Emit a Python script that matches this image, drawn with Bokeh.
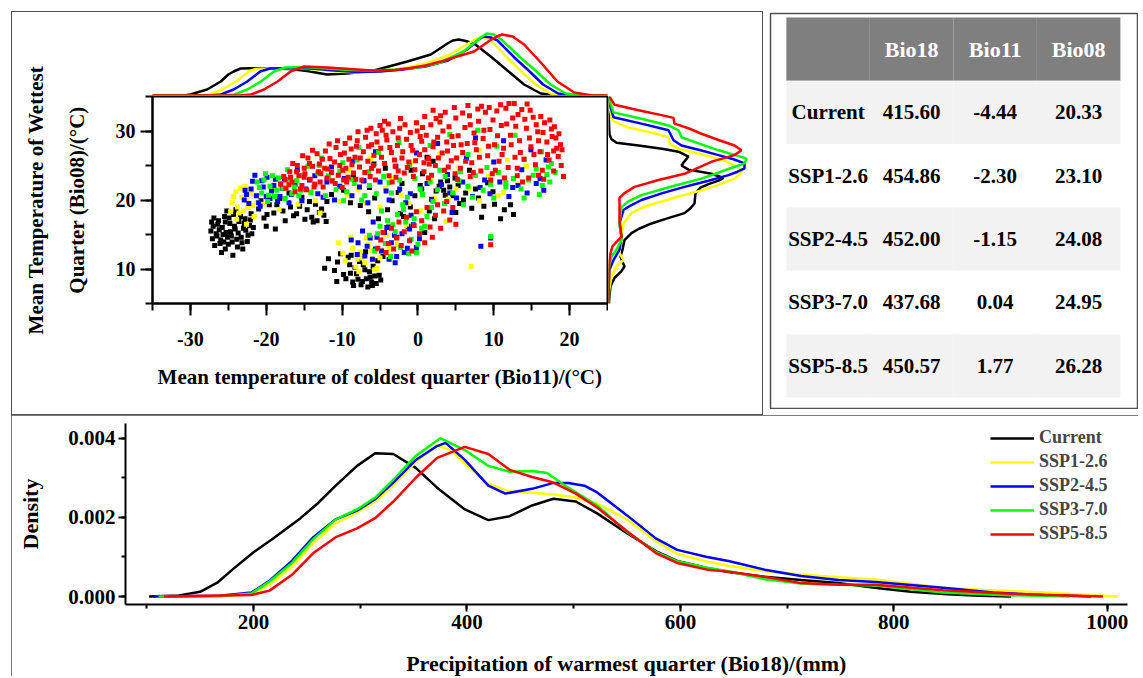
from bokeh.plotting import figure
from bokeh.layouts import column, row
from bokeh.models import (Range1d, LinearAxis, SingleIntervalTicker, FixedTicker,
                          PrintfTickFormatter, Spacer, Legend, LegendItem)
from bokeh.core.properties import value
from bokeh.embed import file_html
from bokeh.resources import INLINE

FONT = "Liberation Serif"

# ---------------- data ----------------
series = ["Current", "SSP1-2.6", "SSP2-4.5", "SSP3-7.0", "SSP5-8.5"]
colors = ["#000000", "#ffff00", "#0000ff", "#00ff00", "#ff0000"]

# table
table_cols = ["Bio18", "Bio11", "Bio08"]
bio18_mean = [415.60, 454.86, 452.00, 437.68, 450.57]
bio11_mean = [-4.44, -2.30, -1.15, 0.04, 1.77]
bio08_mean = [20.33, 23.10, 24.08, 24.95, 26.28]

# scatter points (Bio11, Bio08)
pts_current = [(-27.0,16.2),(-26.6,15.1),(-26.3,17.0),(-26.0,14.2),(-25.8,16.0),(-25.5,17.6),(-25.3,15.3),(-25.0,13.6),
    (-24.8,16.6),(-24.6,14.8),(-24.3,17.9),(-24.1,15.8),(-23.8,13.2),(-23.6,16.9),(-23.3,14.6),(-23.0,15.9),(-22.8,17.3),
    (-22.5,14.0),(-22.2,16.3),(-21.9,15.1),(-26.8,13.4),(-25.9,12.4),(-24.4,12.0),(-23.1,12.9),(-27.3,15.5),(-25.2,18.4),
    (-24.0,18.6),(-22.0,18.0),(-26.2,15.7),(-24.7,15.4),(-23.9,14.3),(-25.6,13.9),(-22.7,15.6),(-27.1,14.4),
    (-26.9,17.4),(-26.4,16.5),(-26.1,13.7),(-25.7,15.0),(-25.4,16.8),(-25.1,14.6),(-24.9,17.4),(-24.5,13.9),(-24.2,16.2),
    (-23.7,15.2),(-23.4,17.6),(-23.2,13.8),(-22.9,16.6),(-22.4,14.9),(-22.1,17.1),(-21.7,16.0),(-26.5,14.8),(-27.2,16.8),
    (-25.4,12.9),
    (-21.0,18.7),(-20.3,17.4),(-19.6,19.3),(-19.0,18.1),(-18.2,20.2),(-17.5,17.0),(-16.8,19.0),(-16.0,18.0),(-15.3,20.4),
    (-14.6,18.6),(-14.0,17.5),(-13.5,19.4),(-13.0,18.2),(-12.4,17.8),(-12.0,19.8),(-11.4,20.8),(-17.0,21.0),(-20.0,16.2),
    (-18.8,15.8),(-13.8,16.8),(-20.7,19.9),(-19.9,17.9),(-18.6,19.3),(-17.8,18.4),(-16.4,17.7),(-15.6,19.1),(-14.9,17.2),
    (-14.3,19.8),(-13.3,17.0),(-12.7,18.7),(-12.1,16.9),
    (-11.8,11.5),(-11.0,9.8),(-10.2,12.2),(-9.5,8.6),(-9.0,10.6),(-8.5,7.6),(-8.1,9.3),(-7.7,11.1),(-7.3,8.2),(-7.0,9.9),
    (-6.6,7.4),(-6.3,8.8),(-5.9,10.4),(-5.5,7.9),(-5.1,9.1),(-4.6,11.8),(-6.9,12.5),(-8.8,12.0),(-7.9,8.5),(-6.1,8.1),
    (-10.6,11.0),(-9.8,9.2),(-9.2,11.7),(-8.6,8.1),(-8.3,10.2),(-7.5,7.7),(-7.2,10.6),(-6.8,8.6),(-6.4,9.6),(-6.0,7.6),
    (-5.7,9.0),(-5.3,11.2),(-4.9,8.4),(-8.9,9.4),(-10.7,8.2),(-12.3,10.1),
    (-9.8,21.4),(-8.5,23.5),(-7.6,19.2),(-6.4,21.8),(-5.2,17.3),(-4.3,24.6),(-3.4,19.9),(-2.1,22.4),(-1.3,16.2),(-0.4,20.6),
    (0.6,23.8),(1.5,18.4),(2.4,21.3),(3.0,22.6),(3.6,20.7),(4.2,21.9),(4.9,23.2),(5.5,19.5),(6.3,21.0),(7.1,18.8),(8.0,20.3),
    (9.2,22.5),(10.1,19.4),(11.4,18.6),(12.6,17.9),(-2.8,14.6),(0.9,15.3),(2.0,25.6),(6.8,24.3),(-5.8,25.2),
    (-8.9,19.6),(-7.2,22.8),(-5.7,20.3),(-4.0,18.6),(-2.6,21.1),(-1.0,19.0),(0.3,22.1),(1.9,20.0),(2.8,22.0),(3.4,21.4),
    (3.9,22.8),(4.6,20.6),(5.3,22.1),(6.0,20.0),(7.6,21.6),(8.7,19.1),(9.9,21.2),(-0.9,24.3),(1.2,26.2),(-3.9,16.1),(-1.9,17.6),
    (-6.5,18.3),(-2.3,18.0),(2.2,17.3),(5.0,18.2),(8.4,17.5),(10.9,17.3),(12.2,19.3)]
pts_ssp126 = [(-24.5,19.6),(-24.0,21.2),(-23.6,18.1),(-23.2,20.4),(-22.8,22.0),(-22.4,18.9),(-22.0,20.9),(-21.6,17.6),
    (-21.2,19.7),(-20.8,21.8),(-23.9,17.2),(-22.6,16.5),(-24.3,20.5),(-23.8,19.0),(-23.4,21.7),(-23.0,18.4),(-22.6,19.9),
    (-22.2,21.5),(-21.8,19.2),(-21.4,20.6),(-24.7,18.3),(-20.5,19.4),
    (-19.5,20.5),(-18.3,18.6),(-17.1,22.3),(-15.8,19.4),(-14.2,21.2),(-12.9,18.1),(-11.6,22.7),(-10.4,19.8),
    (-19.0,21.6),(-16.5,20.9),(-13.5,19.9),(-9.3,20.7),(-6.8,19.5),(-4.3,21.7),(-1.2,19.5),(2.2,20.2),(5.0,21.6),(8.1,19.9),
    (11.3,21.1),
    (-10.5,13.8),(-9.6,11.2),(-8.9,14.6),(-8.2,10.3),(-7.6,12.4),(-7.0,10.9),(-6.5,13.6),(-6.0,11.5),(-5.4,10.1),(-4.8,12.8),
    (-4.1,14.9),(-3.3,11.9),(-2.7,13.5),(-7.8,9.6),(-9.9,12.3),(-8.6,13.0),(-7.3,11.6),(-6.2,12.7),(-5.7,9.9),(-5.0,11.6),
    (-8.0,11.4),(-6.8,14.5),(-3.8,13.0),
    (-9.1,24.3),(-7.9,21.5),(-6.2,26.0),(-5.0,19.0),(-3.6,23.1),(-2.2,20.7),(-0.9,25.4),(0.3,18.4),(1.7,22.8),(2.9,26.6),
    (4.0,20.1),(5.4,24.6),(6.7,21.7),(8.1,27.2),(9.3,23.4),(10.6,20.6),(11.8,25.8),(13.1,22.3),(14.3,24.9),(7.0,10.4),
    (3.7,16.9),(-1.5,16.3)]
pts_ssp245 = [(-22.8,21.4),(-22.3,19.5),(-21.8,22.7),(-21.3,20.6),(-20.8,19.1),(-20.4,21.9),(-19.9,23.3),(-19.5,20.2),
    (-19.0,22.1),(-18.5,19.8),(-21.5,23.6),(-22.9,20.0),(-22.6,20.8),(-22.0,21.6),(-21.0,19.6),(-20.6,22.8),(-20.0,20.5),
    (-19.3,21.3),(-18.8,23.0),(-18.2,20.5),(-17.9,21.7),
    (-17.6,23.0),(-16.7,20.8),(-15.9,24.4),(-14.8,21.6),(-13.6,23.5),(-12.5,20.4),(-11.4,24.8),(-10.3,22.0),
    (-17.0,19.6),(-16.2,22.3),(-15.3,19.9),(-14.3,22.9),(-13.2,20.9),(-12.0,22.6),(-11.0,20.0),(-9.7,23.1),(-8.7,20.6),
    (-7.7,21.9),(-6.6,19.6),(-5.0,22.6),(-3.8,20.0),(-2.4,21.6),(-1.0,20.9),(0.5,21.6),(1.8,20.1),(3.1,22.2),(4.2,21.0),
    (5.9,22.6),(7.2,20.5),(8.2,21.8),(9.5,20.9),(10.8,22.6),(12.0,20.5),(13.2,22.1),(14.4,21.0),(15.6,22.4),(16.6,21.4),
    (-8.8,14.2),(-8.0,12.1),(-7.3,15.5),(-6.7,13.3),(-6.0,11.4),(-5.4,14.6),(-4.8,12.6),(-4.1,16.0),(-3.5,13.8),(-2.8,11.8),
    (-2.1,15.1),(-1.4,13.0),(-0.6,16.4),(0.2,14.4),(-5.9,16.8),(-3.0,10.9),(-7.9,13.8),(-7.0,11.9),(-6.3,14.5),(-5.6,12.9),
    (-4.4,15.3),(-3.8,11.4),(-3.1,14.9),(-1.8,12.4),(-1.1,15.8),(-0.2,13.1),
    (-8.6,25.6),(-7.1,22.8),(-5.6,27.0),(-4.2,21.3),(-2.9,24.9),(-1.6,19.6),(-0.2,26.8),(1.2,22.4),(2.6,28.2),(3.9,23.7),
    (5.1,20.3),(6.4,26.1),(7.6,29.0),(8.8,22.9),(10.0,25.5),(11.3,28.6),(12.5,21.8),(13.7,24.4),(14.9,27.3),(16.1,23.1),
    (16.9,25.8),(8.3,13.3),(9.6,14.5),(4.5,18.2),(-0.9,17.8)]
pts_ssp370 = [(-21.2,22.6),(-20.6,21.0),(-20.1,23.8),(-19.5,22.0),(-18.9,20.5),(-18.4,23.2),(-17.8,21.7),(-17.2,24.4),
    (-16.6,20.9),(-16.0,22.8),(-15.4,21.4),(-19.8,19.8),(-20.9,21.8),(-20.3,22.9),(-19.7,20.7),(-19.2,23.5),(-18.6,21.4),
    (-18.1,22.4),(-17.5,20.2),(-16.9,23.0),(-16.3,21.9),(-15.7,20.6),(-15.1,23.6),
    (-14.5,24.9),(-13.6,22.3),(-12.7,26.1),(-11.8,23.5),(-10.8,21.5),(-9.9,25.4),(-8.9,23.0),
    (-14.1,21.1),(-13.2,23.9),(-12.2,20.6),(-11.3,22.7),(-10.3,24.2),(-9.4,21.2),(-8.4,22.4),(-7.4,20.0),(-6.4,22.1),
    (-5.5,20.9),(-4.5,23.4),(-3.5,21.0),(-2.4,22.9),(-1.4,20.4),(-0.4,23.1),(0.6,20.8),(1.6,22.6),(2.6,21.5),(3.6,23.4),
    (4.6,21.0),(5.6,24.1),(6.6,22.0),(7.6,23.5),(8.6,21.4),(9.6,22.3),(10.6,24.0),(11.6,21.9),(12.6,23.1),(13.6,21.6),
    (14.6,22.9),(15.6,24.5),(16.4,22.1),(17.0,23.7),(17.6,25.3),(18.1,24.0),
    (-13.0,25.0),(-8.0,25.8),(2.0,19.8),(6.0,19.3),(10.0,20.3),(14.0,20.3),(16.0,20.8),(-9.8,19.9),(-2.0,19.3),
    (-6.4,14.9),(-5.7,12.6),(-5.0,16.2),(-4.3,13.7),(-3.6,11.8),(-3.0,15.4),(-2.3,13.1),(-1.6,16.8),(-0.9,14.3),(-0.2,12.4),
    (0.5,15.9),(1.2,17.6),(-2.7,17.9),(-4.8,18.4),(-4.0,17.0),(-3.3,16.4),(-1.9,18.6),(-0.5,17.3),(0.9,16.2),(1.8,18.9),
    (-5.3,15.1),(-1.2,12.2),(0.0,13.6),
    (-7.8,27.6),(-6.5,24.1),(-5.2,26.9),(-3.8,22.5),(-2.5,28.3),(-1.1,25.0),(0.3,21.6),(1.6,27.9),(2.9,24.3),(4.2,29.5),
    (5.4,22.8),(6.6,26.6),(7.9,30.1),(9.1,24.7),(10.4,27.8),(11.6,22.5),(12.8,29.4),(14.0,25.9),(15.2,23.6),(16.3,27.0),
    (17.2,24.8),(9.6,14.7),(17.4,22.6),(3.5,19.5),(7.2,20.4),(-7.0,20.6)]
pts_ssp585 = [(-18.1,22.3),(-17.7,23.4),(-17.4,21.7),(-16.9,24.1),(-16.6,22.6),(-16.2,21.2),(-15.9,25.0),(-15.7,23.5),
    (-15.3,22.1),(-15.0,24.6),(-14.7,21.5),(-14.5,26.1),(-14.2,23.0),(-13.9,24.9),(-13.6,22.3),(-13.3,26.7),(-13.0,25.2),
    (-12.8,23.8),(-12.5,21.9),(-12.2,27.1),(-11.9,24.5),(-11.6,26.0),(-11.3,22.8),(-11.0,25.5),(-10.8,27.6),(-10.5,23.6),
    (-10.2,26.6),(-9.9,24.3),(-9.6,28.2),(-9.4,22.6),(-9.1,25.9),(-8.8,27.4),(-8.5,23.9),(-8.3,26.2),(-8.0,28.6),(-7.7,24.8),
    (-7.4,22.9),(-7.2,27.0),(-6.9,29.1),(-6.6,25.6),(-6.3,23.4),(-6.1,28.0),(-5.8,26.5),(-5.5,29.6),(-5.2,24.2),(-4.9,27.5),
    (-4.7,30.1),(-4.4,25.3),(-4.1,28.7),(-3.8,23.5),(-3.5,26.9),(-3.3,29.9),(-3.0,24.9),(-2.7,27.9),(-2.4,30.4),(-2.1,26.1),
    (-1.8,23.9),(-1.5,28.8),(-1.2,25.5),(-1.0,29.8),(-0.7,27.2),(-0.4,24.4),(-0.1,30.0),(0.2,26.6),(0.5,28.5),(0.8,24.1),
    (1.1,29.4),(1.4,26.0),(1.7,30.9),(2.0,27.7),(2.3,25.0),(2.6,29.1),(2.9,31.3),(3.2,26.8),(3.5,24.3),(3.8,28.4),(4.1,30.6),
    (4.4,25.7),(4.7,27.9),(5.0,31.9),(5.3,29.3),(5.6,24.6),(5.9,26.9),(6.2,30.5),(6.5,28.2),(6.8,32.2),(7.1,25.4),(7.4,29.7),
    (7.7,27.3),(8.0,31.4),(8.3,24.2),(8.6,28.9),(8.9,32.7),(9.2,26.4),(9.5,30.2),(9.8,23.8),(10.1,28.0),(10.4,32.9),
    (10.7,25.6),(11.0,30.8),(11.3,27.5),(11.6,33.3),(11.9,24.7),(12.2,29.4),(12.5,31.9),(12.8,26.2),(13.1,23.5),(13.4,28.6),
    (13.7,33.1),(14.0,25.9),(14.3,30.4),(14.6,23.2),(14.9,27.7),(15.2,32.0),(15.5,25.1),(15.8,29.9),(16.1,27.0),(16.4,24.3),
    (16.7,31.2),(17.0,28.4),(17.3,25.8),(17.6,30.3),(17.9,27.1),(18.2,29.0),(18.5,26.3),(18.8,28.0),
    (-17.5,22.9),(-16.8,23.3),(-16.0,24.1),(-15.5,21.6),(-14.9,23.8),(-14.3,25.3),(-13.7,21.9),(-13.1,24.1),(-12.6,25.9),
    (-12.0,23.2),(-11.4,24.0),(-10.9,22.4),(-10.3,25.0),(-9.7,26.8),(-9.2,23.3),(-8.7,25.1),(-8.1,27.8),(-7.6,26.1),
    (-7.0,24.0),(-6.5,27.8),(-5.9,25.0),(-5.4,28.4),(-4.8,26.2),(-4.2,29.4),(-3.7,27.6),(-3.1,25.8),(-2.6,29.0),(-2.0,27.0),
    (-1.4,24.7),(-0.9,27.9),(-0.3,25.7),(0.3,29.2),(0.9,27.3),(1.5,25.2),(2.1,28.4),(2.7,26.1),(3.3,30.0),(3.9,27.1),
    (4.5,29.2),(5.1,26.1),(5.7,28.0),(6.3,25.6),(6.9,30.9),(7.5,28.3),(8.1,26.2),(8.7,30.1),(9.3,27.8),(9.9,31.6),(10.5,29.3),
    (11.1,26.6),(11.7,31.0),(12.3,28.0),(12.9,30.7),(13.5,26.9),(14.1,31.7),(14.7,29.0),(15.3,26.6),(15.9,28.6),(16.5,29.8),
    (17.1,26.6),(17.7,29.2),(18.3,27.5),(-6.2,30.4),(-0.2,31.2),(3.0,32.2),(7.9,33.2),(12.0,34.0),(14.4,33.9),(-10.0,21.8),
    (-3.4,22.6),(1.4,23.2),(5.2,23.0),(9.6,22.9),(13.8,22.6),(16.6,23.0),(19.2,23.4),(9.6,13.5),
    (-16.5,25.3),(-15.2,26.4),(-13.9,27.2),(-12.9,22.6),(-11.7,28.1),(-10.6,28.6),(-9.8,22.9),(-9.0,29.0),(-8.2,23.0),
    (-7.9,29.9),(-6.7,30.1),(-5.6,22.9),(-5.0,30.8),(-3.9,31.0),(-2.9,23.3),(-1.7,30.9),(-0.6,23.4),(0.6,30.5),(1.8,23.6),
    (2.4,31.8),(3.6,32.7),(4.9,23.8),(5.9,32.6),(6.9,23.4),(8.4,33.6),(9.4,33.4),(10.9,33.8),(11.4,23.2),(12.7,34.0),
    (13.2,32.4),(14.8,33.0),(15.6,30.9),(16.2,32.1),(17.4,31.6),(18.0,30.6),(18.6,29.6),(19.0,27.3),(18.9,25.0),(17.9,24.2),
    (15.9,23.6),(-4.4,31.4),(-2.3,31.8),(0.9,32.1),(2.0,33.0),(4.8,33.4),(6.6,33.7),(13.1,24.6),(10.2,24.3),(7.3,24.0),
    (4.0,24.8),(0.8,25.4),(-2.6,24.2),(-6.1,24.6),(-9.5,24.6),(-12.3,24.6),(-15.0,23.3),(-17.0,22.2),
    (-5.3,13.0),(-4.9,14.2),(-4.6,15.3),(-4.2,12.4),(-3.9,13.7),(-3.5,15.9),(-3.2,12.9),(-2.8,14.5),(-2.5,16.8),(-2.2,13.4),
    (-1.8,15.4),(-1.5,17.5),(-1.1,14.1),(-0.8,12.6),(-0.5,16.3),(-0.2,18.3),(0.2,15.1),(0.5,17.0),(0.9,13.8),(1.2,18.9),
    (1.6,16.1),(1.9,14.6),(2.3,17.8),(2.6,19.3),(3.0,15.9),(3.4,18.4),(3.8,19.8),(4.2,17.1),(4.6,18.9),(5.0,16.5)]
scatter_points = [pts_current, pts_ssp126, pts_ssp245, pts_ssp370, pts_ssp585]

# marginal density of Bio11 (top)
bio11_x = [
    [-35, -30.9, -30, -27.8, -26, -25, -24.3, -23.4, -22, -20, -16.8, -14.6, -12, -9.3, -5.8, -1.4, 1.7, 3.9, 4.6, 5.4, 6.3, 7.4, 9.6, 11.8, 14, 16.2, 18.4, 25],
    [-35, -29, -27.5, -25.8, -24, -22.3, -21.4, -19, -16, -13, -11, -8, -5, -2, 1, 4, 6, 7.5, 8.3, 9.2, 10, 12, 13.5, 15.5, 17.5, 20, 25],
    [-35, -27.5, -26, -24.3, -22.5, -20.8, -19.5, -17, -14, -11, -8, -5, -2, 1, 4, 6.5, 8, 8.7, 9.6, 10.5, 13, 14.6, 16.5, 18.5, 20.5, 25],
    [-35, -25.7, -24.2, -22.5, -20.7, -19, -17.5, -15, -12, -9, -6, -3, 0, 3, 6, 8.3, 9.1, 10, 11, 13.5, 15.5, 17.5, 19.5, 21.5, 25],
    [-35, -23.5, -22, -20.3, -18.5, -16.8, -15, -12, -9, -6, -3, -1.4, 1, 3, 5.2, 7.4, 9.5, 10.4, 11.1, 12.5, 14, 16.2, 18.4, 20.6, 23, 25],
]
bio11_density = [
    [0, 0, 0.001, 0.006, 0.014, 0.021, 0.024, 0.027, 0.0272, 0.027, 0.0265, 0.0245, 0.021, 0.022, 0.025, 0.034, 0.041, 0.052, 0.055, 0.056, 0.0545, 0.052, 0.039, 0.025, 0.011, 0.002, 0, 0],
    [0, 0, 0.001, 0.006, 0.014, 0.024, 0.0265, 0.027, 0.027, 0.026, 0.024, 0.023, 0.024, 0.027, 0.032, 0.040, 0.049, 0.056, 0.058, 0.0565, 0.052, 0.036, 0.025, 0.011, 0.002, 0, 0],
    [0, 0, 0.001, 0.006, 0.014, 0.024, 0.027, 0.0275, 0.027, 0.025, 0.0235, 0.024, 0.026, 0.029, 0.035, 0.046, 0.056, 0.059, 0.058, 0.055, 0.036, 0.025, 0.011, 0.002, 0, 0],
    [0, 0, 0.001, 0.006, 0.014, 0.024, 0.028, 0.0285, 0.027, 0.0255, 0.025, 0.026, 0.028, 0.033, 0.044, 0.058, 0.062, 0.061, 0.056, 0.038, 0.025, 0.011, 0.002, 0, 0],
    [0, 0, 0.001, 0.006, 0.014, 0.024, 0.029, 0.028, 0.0265, 0.025, 0.0255, 0.027, 0.030, 0.034, 0.039, 0.044, 0.055, 0.059, 0.061, 0.059, 0.051, 0.033, 0.014, 0.003, 0, 0],
]

# marginal density of Bio08 (right)
bio08_y = [
    [35, 31, 29.5, 28.8, 28.3, 27.9, 27.4, 27.0, 26.3, 25.6, 25.0, 24.4, 23.8, 23.2, 22.8, 22.3, 21.8, 21.0, 19.5, 18.8, 18.1, 17.3, 16.6, 15.8, 15.2, 14.2, 12.8, 11.8, 11.0, 10.4, 9.7, 8.7, 7.5, 5.5, 5],
    [35, 33.5, 31.5, 30.5, 29.6, 29.1, 28.2, 27.4, 26.8, 26.25, 25.6, 25.0, 24.5, 24.1, 23.6, 23.1, 22.2, 21.4, 20.5, 19.5, 18.8, 18.1, 16.6, 14.7, 12.3, 11.3, 10.4, 8.9, 7.0, 5],
    [35, 33.5, 32, 31, 30.1, 28.65, 27.9, 27.2, 26.5, 25.9, 25.3, 24.6, 24.1, 23.6, 22.8, 21.9, 21.0, 20.0, 19.2, 18.55, 16.6, 14.7, 12.8, 11.3, 9.9, 8.0, 5],
    [35, 34, 32.7, 31.7, 30.8, 30.1, 29.1, 28.2, 27.2, 26.5, 26.0, 25.3, 24.5, 23.8, 23.1, 22.0, 20.7, 19.8, 19.0, 16.6, 14.2, 12.8, 11.8, 10.4, 5],
    [35, 34.5, 33.8, 33.0, 32.3, 31.9, 31.06, 30.4, 29.6, 28.7, 27.9, 27.2, 26.5, 25.6, 24.7, 23.8, 22.9, 21.9, 21.0, 20.3, 17.1, 14.7, 13.3, 12.3, 10.9, 5],
]
bio08_density = [
    [0, 0.0005, 0.001, 0.003, 0.008, 0.030, 0.055, 0.070, 0.080, 0.076, 0.073, 0.080, 0.103, 0.115, 0.110, 0.100, 0.092, 0.087, 0.086, 0.082, 0.076, 0.058, 0.043, 0.030, 0.023, 0.016, 0.014, 0.012, 0.014, 0.016, 0.013, 0.006, 0.002, 0.0007, 0.0005],
    [0, 0.001, 0.004, 0.020, 0.048, 0.060, 0.061, 0.070, 0.088, 0.103, 0.118, 0.126, 0.132, 0.133, 0.130, 0.126, 0.110, 0.093, 0.070, 0.046, 0.032, 0.023, 0.015, 0.013, 0.011, 0.015, 0.008, 0.003, 0.0007, 0.0003],
    [0, 0.002, 0.005, 0.035, 0.060, 0.065, 0.073, 0.092, 0.110, 0.125, 0.136, 0.136, 0.129, 0.120, 0.100, 0.076, 0.054, 0.033, 0.022, 0.015, 0.011, 0.013, 0.011, 0.005, 0.001, 0.0003, 0],
    [0, 0.002, 0.005, 0.035, 0.060, 0.070, 0.073, 0.090, 0.110, 0.127, 0.138, 0.136, 0.120, 0.107, 0.093, 0.064, 0.033, 0.020, 0.013, 0.011, 0.013, 0.008, 0.003, 0.0007, 0],
    [0.001, 0.003, 0.006, 0.030, 0.053, 0.065, 0.066, 0.080, 0.093, 0.110, 0.126, 0.133, 0.126, 0.104, 0.090, 0.076, 0.050, 0.026, 0.016, 0.011, 0.011, 0.013, 0.004, 0.002, 0.0007, 0],
]

# density of Bio18 (bottom)
bio18_x = [
    [102, 130, 150, 166, 181, 200, 219, 244, 260, 277, 297, 314, 331, 352, 372, 398, 420, 440, 461, 481, 502, 522, 550, 577, 597, 625, 645, 679, 713, 748, 782, 816, 850, 880, 910],
    [108, 168, 198, 215, 236, 256, 277, 297, 314, 331, 352, 372, 385, 398, 420, 440, 461, 481, 502, 522, 550, 577, 597, 625, 645, 679, 713, 748, 783, 846, 940, 1010],
    [106, 168, 198, 215, 236, 256, 277, 297, 314, 331, 352, 372, 380, 398, 420, 436, 461, 481, 495, 510, 522, 550, 577, 597, 625, 645, 679, 713, 748, 783, 846, 893, 940, 985],
    [111, 168, 198, 215, 236, 256, 277, 297, 314, 331, 352, 375, 398, 420, 440, 461, 475, 495, 522, 550, 577, 597, 625, 645, 679, 713, 748, 783, 846, 900, 965],
    [116, 198, 215, 236, 256, 277, 297, 314, 331, 352, 372, 398, 420, 440, 461, 481, 502, 522, 550, 577, 597, 625, 645, 679, 713, 748, 783, 846, 909, 996],
]
bio18_density = [
    [0, 0.00003, 0.00012, 0.00035, 0.00070, 0.00112, 0.00148, 0.00198, 0.00235, 0.00280, 0.00330, 0.00362, 0.00360, 0.00325, 0.00275, 0.00220, 0.00193, 0.00203, 0.00230, 0.00247, 0.00240, 0.00210, 0.00160, 0.00115, 0.00090, 0.00072, 0.00062, 0.00050, 0.00042, 0.00034, 0.00022, 0.00012, 0.00006, 0.00002, 0],
    [0, 0.00001, 0.00006, 0.00030, 0.00075, 0.00135, 0.00185, 0.00212, 0.00240, 0.00280, 0.00340, 0.00382, 0.00370, 0.00335, 0.00285, 0.00265, 0.00262, 0.00258, 0.00250, 0.00235, 0.00195, 0.00140, 0.00108, 0.00088, 0.00078, 0.00064, 0.00056, 0.00049, 0.00043, 0.00022, 0.00010, 0],
    [0, 0.00002, 0.00010, 0.00040, 0.00090, 0.00150, 0.00195, 0.00217, 0.00246, 0.00288, 0.00345, 0.00380, 0.00388, 0.00345, 0.00280, 0.00260, 0.00272, 0.00287, 0.00287, 0.00280, 0.00263, 0.00205, 0.00147, 0.00118, 0.00100, 0.00090, 0.00068, 0.00052, 0.00042, 0.00037, 0.00022, 0.00010, 0.00004, 0],
    [0, 0.00001, 0.00008, 0.00038, 0.00085, 0.00145, 0.00195, 0.00220, 0.00250, 0.00295, 0.00355, 0.00400, 0.00370, 0.00330, 0.00315, 0.00317, 0.00312, 0.00275, 0.00230, 0.00163, 0.00113, 0.00089, 0.00073, 0.00064, 0.00044, 0.00033, 0.00030, 0.00028, 0.00010, 0.00004, 0],
    [0, 0.00004, 0.00015, 0.00055, 0.00110, 0.00150, 0.00172, 0.00198, 0.00240, 0.00300, 0.00350, 0.00378, 0.00360, 0.00320, 0.00302, 0.00288, 0.00260, 0.00225, 0.00165, 0.00110, 0.00085, 0.00068, 0.00063, 0.00050, 0.00034, 0.00030, 0.00030, 0.00016, 0.00007, 0],
]

# ---------------- helpers ----------------
PANEL = {"outline": "1.5px solid #505050", "outline-offset": "-1.5px"}


def style_axis(ax, tick_px, lab_px, out_major, out_minor, standoff, lab_standoff):
    ax.axis_line_width = 2
    ax.axis_line_color = "black"
    ax.major_tick_line_width = 2
    ax.minor_tick_line_width = 2
    ax.major_tick_out = out_major
    ax.major_tick_in = 0
    ax.minor_tick_out = out_minor
    ax.minor_tick_in = 0
    ax.major_label_text_font = FONT
    ax.major_label_text_font_style = "bold"
    ax.major_label_text_font_size = tick_px
    ax.major_label_text_color = "black"
    ax.major_label_standoff = standoff
    ax.axis_label_text_font = FONT
    ax.axis_label_text_font_style = "bold"
    ax.axis_label_text_font_size = lab_px
    ax.axis_label_text_color = "black"
    ax.axis_label_standoff = lab_standoff


def title_axis(text, standoff):
    ax = LinearAxis(ticker=FixedTicker(ticks=[]))
    style_axis(ax, "20px", "21px", 0, 0, 0, standoff)
    ax.axis_line_color = None
    ax.major_tick_line_color = None
    ax.minor_tick_line_color = None
    ax.axis_label = text
    return ax


def spacer(w, h):
    return Spacer(width=w, height=h)


# ---------------- y title strip (left of scatter) ----------------
lab = figure(width=99, height=400, x_range=Range1d(0, 1), y_range=Range1d(5, 35),
             min_border_left=98, min_border_right=0, min_border_top=83, min_border_bottom=110,
             x_axis_location=None, y_axis_location=None,
             output_backend="svg", toolbar_location=None)
lab.grid.visible = False
lab.outline_line_color = None
lab.add_layout(title_axis("Quarter (Bio08)/(\u00b0C)", 23), "left")
lab.add_layout(title_axis("Mean Temperature of Wettest", 14), "left")

# ---------------- scatter ----------------
sc = figure(width=496, height=318, x_range=Range1d(-35, 25), y_range=Range1d(5, 35),
            min_border_left=40, min_border_right=1, min_border_top=1, min_border_bottom=110,
            output_backend="svg", toolbar_location=None)
sc.grid.visible = False
sc.outline_line_color = "black"
sc.outline_line_width = 2
sc.xaxis.ticker = SingleIntervalTicker(interval=10, num_minor_ticks=2)
sc.yaxis.ticker = SingleIntervalTicker(interval=10, num_minor_ticks=2)
sc.xaxis.formatter = PrintfTickFormatter(format="%d")
sc.yaxis.formatter = PrintfTickFormatter(format="%d")
style_axis(sc.xaxis[0], "20px", "21px", 12, 7, 16, 16)
style_axis(sc.yaxis[0], "20px", "21px", 12, 7, 5, 0)
sc.xaxis.axis_label = "Mean temperature of coldest quarter (Bio11)/(\u00b0C)"

for pts, c in zip(scatter_points, colors):
    xs = [p[0] for p in pts]
    ys = [p[1] for p in pts]
    sc.scatter(xs, ys, size=5, marker="square", fill_color=c, line_color=None)

# top marginal
tm = figure(width=496, height=82, x_range=sc.x_range, y_range=Range1d(0, 0.082),
            min_border_left=40, min_border_right=1, min_border_top=0, min_border_bottom=0,
            x_axis_location=None, y_axis_location=None,
            output_backend="svg", toolbar_location=None)
tm.grid.visible = False
tm.outline_line_color = None
for xs, ds, c in zip(bio11_x, bio11_density, colors):
    tm.line(xs, ds, line_color=c, line_width=2.5)

# right marginal
rm = figure(width=153, height=318, x_range=Range1d(0, 0.153), y_range=sc.y_range,
            min_border_left=0, min_border_right=0, min_border_top=1, min_border_bottom=110,
            x_axis_location=None, y_axis_location=None,
            output_backend="svg", toolbar_location=None)
rm.grid.visible = False
rm.outline_line_color = None
for ys, ds, c in zip(bio08_y, bio08_density, colors):
    rm.line(ds, ys, line_color=c, line_width=2.5)

inner = row(lab, column(tm, row(sc, rm)))
topleft = column(spacer(748, 2), row(spacer(2, 400), inner, spacer(2, 400)), spacer(748, 2), styles=PANEL)

# ---------------- table ----------------
n_rows = len(series) + 1
n_cols = len(table_cols) + 1
tb = figure(width=369, height=397, x_range=Range1d(-0.19, 4.205), y_range=Range1d(6.174, -0.063),
            min_border=1, x_axis_location=None, y_axis_location=None,
            output_backend="svg", toolbar_location=None)
tb.grid.visible = False
tb.outline_line_color = "#505050"
tb.outline_line_width = 1.5

cell_l, cell_r, cell_t, cell_b, cell_c = [], [], [], [], []
for r in range(n_rows):
    for cidx in range(n_cols):
        cell_l.append(cidx)
        cell_r.append(cidx + 1)
        cell_t.append(r)
        cell_b.append(r + 1)
        if r == 0:
            cell_c.append("#7f7f7f")
        elif r % 2 == 1:
            cell_c.append("#f2f2f2")
        else:
            cell_c.append("#ffffff")
tb.quad(left=cell_l, right=cell_r, top=cell_t, bottom=cell_b, fill_color=cell_c, line_color=None)

hx = [i + 1.5 for i in range(len(table_cols))]
tb.text(x=hx, y=[0.5] * len(table_cols), text=table_cols, text_color="white",
        text_font=value(FONT), text_font_style="bold", text_font_size="22px",
        text_align="center", text_baseline="middle")
tx, ty, tt = [], [], []
for i, name in enumerate(series):
    vals = [name, f"{bio18_mean[i]:.2f}", f"{bio11_mean[i]:.2f}", f"{bio08_mean[i]:.2f}"]
    for j, v in enumerate(vals):
        tx.append(j + 0.5)
        ty.append(i + 1.5)
        tt.append(v)
tb.text(x=tx, y=ty, text=tt, text_color="black",
        text_font=value(FONT), text_font_style="bold", text_font_size="21px",
        text_align="center", text_baseline="middle")

# ---------------- density ----------------
BOTTOM_PANEL = {"outline": "1.5px solid #505050", "outline-offset": "-1.5px",
                "clip-path": "inset(0px 0px 2px 0px)"}
dp = figure(width=1127, height=263, x_range=Range1d(80, 1019), y_range=Range1d(-0.0002, 0.00437),
            min_border_left=114, min_border_right=11, min_border_top=8, min_border_bottom=71,
            output_backend="svg", toolbar_location=None, styles=BOTTOM_PANEL)
dp.grid.visible = False
dp.outline_line_color = None
dp.xaxis.ticker = SingleIntervalTicker(interval=200, num_minor_ticks=2)
dp.yaxis.ticker = SingleIntervalTicker(interval=0.002, num_minor_ticks=2)
dp.yaxis.formatter = PrintfTickFormatter(format="%.3f")
style_axis(dp.xaxis[0], "21px", "22px", 7, 4, 3, 19)
style_axis(dp.yaxis[0], "21px", "22px", 7, 4, 3, 22)
dp.xaxis.axis_label = "Precipitation of warmest quarter (Bio18)/(mm)"
dp.yaxis.axis_label = "Density"

items = []
for xs, ds, c, name in zip(bio18_x, bio18_density, colors, series):
    r = dp.line(xs, ds, line_color=c, line_width=2.5)
    items.append(LegendItem(label=name, renderers=[r]))
leg = Legend(items=items, location=(865, 60), glyph_width=44, glyph_height=20, label_height=20,
             label_standoff=5, spacing=3, padding=2, margin=0,
             label_text_font=FONT, label_text_font_style="bold", label_text_font_size="18px",
             border_line_color=None, background_fill_alpha=0)
dp.add_layout(leg)

# ---------------- layout ----------------
top_row = row(spacer(11, 1), topleft, spacer(6, 1), column(spacer(1, 1), tb))
bottom_row = row(spacer(11, 1), dp)
page = column(spacer(1, 11), top_row, bottom_row)

open("out.html", "w").write(file_html(page, INLINE, title="Bio variables"))
